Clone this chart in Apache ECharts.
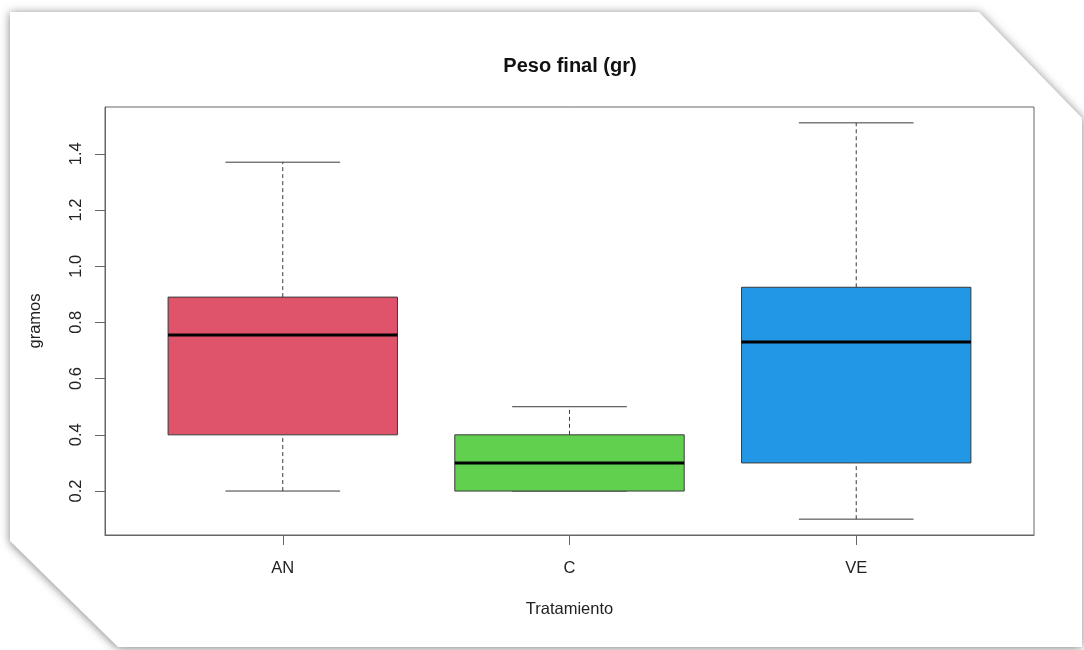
<!DOCTYPE html>
<html>
<head>
<meta charset="utf-8">
<title>Peso final (gr)</title>
<script src="https://cdn.jsdelivr.net/npm/echarts@6/dist/echarts.min.js"></script>
<style>
  html, body { margin: 0; padding: 0; background: #ffffff; }
  #chart { width: 1084px; height: 650px; }
</style>
</head>
<body>
<div id="chart"></div>
<script>
// Five-number summaries per treatment
const categories = ['AN', 'C', 'VE'];
const whiskerLow = [0.2, 0.2, 0.1];
const q1 = [0.4, 0.2, 0.3];
const medians = [0.755, 0.3, 0.73];
const q3 = [0.89, 0.4, 0.925];
const whiskerHigh = [1.37, 0.5, 1.51];
const yTicks = [0.2, 0.4, 0.6, 0.8, 1.0, 1.2, 1.4];
const xTicks = [1, 2, 3];

const palette = ['#DF536B', '#61D04F', '#2297E6'];
const FONT = '"Liberation Sans", Arial, sans-serif';

// y range padded by 4% of the data range on each side
const dataMin = Math.min(...whiskerLow);
const dataMax = Math.max(...whiskerHigh);
const pad = (dataMax - dataMin) * 0.04;

const boxData = categories.map((c, i) => [i + 1, whiskerLow[i], q1[i], medians[i], q3[i], whiskerHigh[i]]);

function renderBox(params, api) {
  const x = api.value(0);
  const lo = api.coord([x, api.value(1)]);
  const b1 = api.coord([x, api.value(2)]);
  const md = api.coord([x, api.value(3)]);
  const b3 = api.coord([x, api.value(4)]);
  const hi = api.coord([x, api.value(5)]);
  const boxW = api.size([0.8, 0])[0];
  const half = boxW / 2;
  const staple = boxW / 4;
  const cx = lo[0];
  const lineStyle = { stroke: '#3a3a3a', lineWidth: 1 };
  const dashStyle = { stroke: '#3a3a3a', lineWidth: 1, lineDash: [4, 3] };
  return {
    type: 'group',
    children: [
      { type: 'line', shape: { x1: cx, y1: b3[1], x2: cx, y2: hi[1] }, style: dashStyle },
      { type: 'line', shape: { x1: cx, y1: lo[1], x2: cx, y2: b1[1] }, style: dashStyle },
      { type: 'line', shape: { x1: cx - staple, y1: hi[1], x2: cx + staple, y2: hi[1] }, style: lineStyle },
      { type: 'line', shape: { x1: cx - staple, y1: lo[1], x2: cx + staple, y2: lo[1] }, style: lineStyle },
      {
        type: 'rect',
        shape: { x: cx - half, y: b3[1], width: boxW, height: b1[1] - b3[1] },
        style: { fill: palette[params.dataIndex], stroke: '#3a3a3a', lineWidth: 1 }
      },
      { type: 'line', shape: { x1: cx - half, y1: md[1], x2: cx + half, y2: md[1] }, style: { stroke: '#000', lineWidth: 3 } }
    ]
  };
}

const chart = echarts.init(document.getElementById('chart'), null, { renderer: 'canvas' });

chart.setOption({
  animation: false,
  backgroundColor: '#ffffff',
  textStyle: { fontFamily: FONT },
  graphic: [
    {
      type: 'polygon',
      z: -10,
      silent: true,
      shape: { points: [[10, 12], [979, 12], [1082, 118], [1082, 647], [118, 647], [10, 541]] },
      style: { fill: '#ffffff', shadowBlur: 10, shadowColor: 'rgba(0,0,0,0.5)', shadowOffsetX: 0, shadowOffsetY: 1 }
    },
    {
      type: 'text',
      x: 570,
      y: 66,
      style: {
        text: 'Peso final (gr)',
        font: 'bold 20px ' + FONT,
        fill: '#111',
        textAlign: 'center',
        textVerticalAlign: 'middle'
      }
    }
  ],
  grid: {
    left: 105,
    top: 107,
    width: 929,
    height: 428,
    show: true,
    backgroundColor: 'transparent',
    borderColor: '#666',
    borderWidth: 1
  },
  xAxis: {
    type: 'value',
    min: 0.38,
    max: 3.62,
    name: 'Tratamiento',
    nameLocation: 'middle',
    nameGap: 66,
    nameTextStyle: { fontSize: 16.5, color: '#222', fontFamily: FONT },
    axisLine: { show: true, lineStyle: { color: '#666' } },
    axisTick: { show: true, length: 10, customValues: xTicks, lineStyle: { color: '#666' } },
    axisLabel: {
      customValues: xTicks,
      margin: 25,
      fontSize: 16.5,
      color: '#222',
      formatter: v => categories[Math.round(v) - 1] || ''
    },
    splitLine: { show: false }
  },
  yAxis: {
    type: 'value',
    min: dataMin - pad,
    max: dataMax + pad,
    name: 'gramos',
    nameLocation: 'middle',
    nameGap: 61,
    nameRotate: 90,
    nameTextStyle: { fontSize: 16.5, color: '#222', fontFamily: FONT },
    axisLine: { show: true, lineStyle: { color: '#666' } },
    axisTick: { show: true, length: 10, customValues: yTicks, lineStyle: { color: '#666' } },
    axisLabel: {
      customValues: yTicks,
      rotate: 90,
      margin: 20,
      fontSize: 16.5,
      color: '#222',
      formatter: v => v.toFixed(1)
    },
    splitLine: { show: false }
  },
  series: [
    {
      type: 'custom',
      name: 'Peso final',
      data: boxData,
      encode: { x: 0, y: [1, 2, 3, 4, 5] },
      renderItem: renderBox,
      clip: false
    }
  ]
});
</script>
</body>
</html>
